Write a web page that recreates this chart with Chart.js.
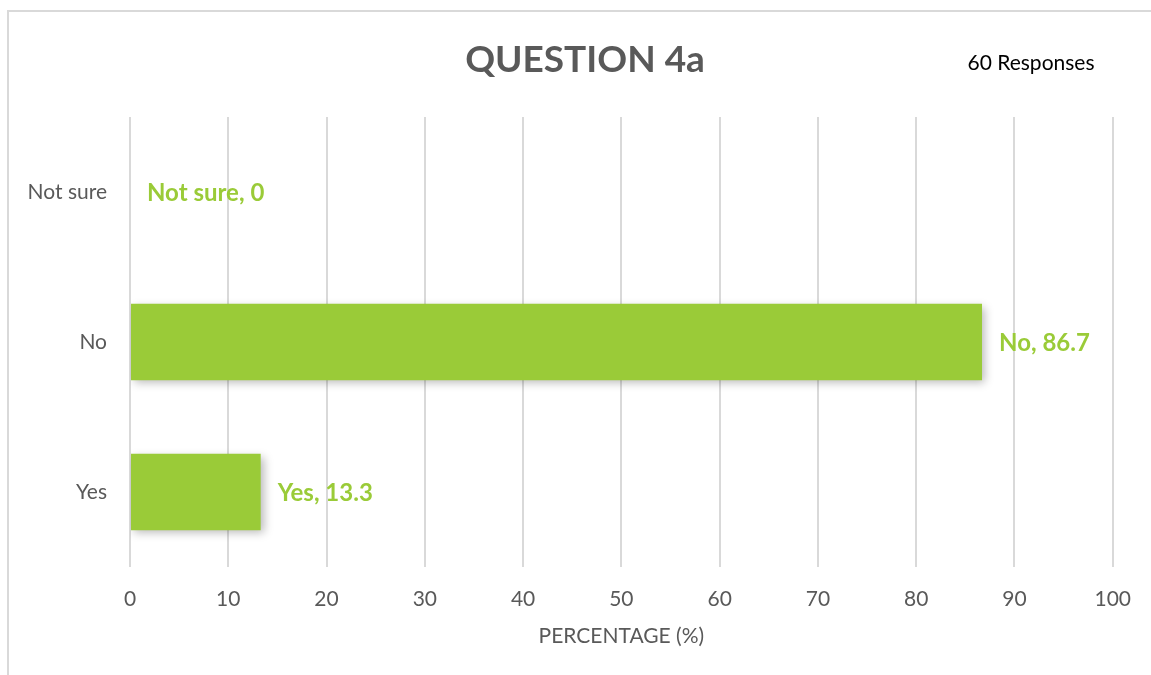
<!DOCTYPE html>
<html>
<head>
<meta charset="utf-8">
<script src="https://cdn.jsdelivr.net/npm/chart.js@4"></script>
<style>
  html, body { margin: 0; padding: 0; background: #fff; }
  #wrap { position: relative; width: 1151px; height: 675px; overflow: hidden; }
  #frame { position: absolute; left: 7px; top: 10px; width: 1160px; height: 700px;
           border: 2px solid #d9d9d9; box-sizing: border-box; }
  canvas { position: absolute; left: 0; top: 0; }
</style>
</head>
<body>
<div id="wrap">
  <div id="frame"></div>
  <canvas id="chart" width="1151" height="675"></canvas>
</div>
<script>
const categories = ['Not sure', 'No', 'Yes'];
const percentages = [0, 86.7, 13.3];
const xTicks = [0, 10, 20, 30, 40, 50, 60, 70, 80, 90, 100];

const green = '#9acb38';
const grey = '#595959';
const font = "Lato, 'Open Sans', sans-serif";

// soft drop shadow behind bars
const barShadow = {
    id: 'barShadow',
    beforeDatasetDraw(chart) {
        const c = chart.ctx;
        c.save();
        c.shadowColor = 'rgba(0,0,0,0.28)';
        c.shadowBlur = 9;
        c.shadowOffsetX = 3;
        c.shadowOffsetY = 3;
    },
    afterDatasetDraw(chart) {
        chart.ctx.restore();
    }
};

// title, "Category, value" labels at the bar ends, plus the responses note
const barLabels = {
    id: 'barLabels',
    afterDatasetsDraw(chart) {
        const c = chart.ctx;
        const meta = chart.getDatasetMeta(0);
        c.save();
        c.textBaseline = 'middle';

        c.font = "bold 37px " + font;
        c.fillStyle = grey;
        c.textAlign = 'center';
        c.fillText('QUESTION 4a', 585, 60);

        c.font = "21px " + font;
        c.fillStyle = '#000';
        c.fillText('60 Responses', 1031, 63);

        c.font = "bold 24px " + font;
        c.fillStyle = green;
        c.textAlign = 'left';
        meta.data.forEach((bar, i) => {
            c.fillText(categories[i] + ', ' + percentages[i], bar.x + 17, bar.y + 1);
        });
        c.restore();
    }
};

new Chart(document.getElementById('chart'), {
    type: 'bar',
    data: {
        labels: categories,
        datasets: [{
            data: percentages,
            backgroundColor: green,
            barPercentage: 0.85,
            categoryPercentage: 0.6
        }]
    },
    plugins: [barShadow, barLabels],
    options: {
        indexAxis: 'y',
        responsive: false,
        animation: false,
        layout: { padding: { left: 0, right: 38, top: 117, bottom: 0 } },
        plugins: {
            legend: { display: false },
            tooltip: { enabled: false }
        },
        scales: {
            x: {
                min: 0,
                max: 100,
                afterBuildTicks(scale) {
                    scale.ticks = xTicks.map(v => ({ value: v }));
                },
                afterFit(scale) { scale.height = 108; },
                grid: { color: '#d9d9d9', lineWidth: 2, drawTicks: false },
                border: { display: false },
                ticks: {
                    color: grey,
                    padding: 20,
                    font: { family: font, size: 21 }
                },
                title: {
                    display: true,
                    text: 'PERCENTAGE (%)',
                    color: grey,
                    font: { family: font, size: 21 },
                    padding: { top: 0, bottom: 26 }
                }
            },
            y: {
                afterFit(scale) { scale.width = 130; },
                grid: { display: false },
                border: { display: false },
                ticks: {
                    color: grey,
                    padding: 15,
                    font: { family: font, size: 21 }
                }
            }
        }
    }
});
</script>
</body>
</html>
